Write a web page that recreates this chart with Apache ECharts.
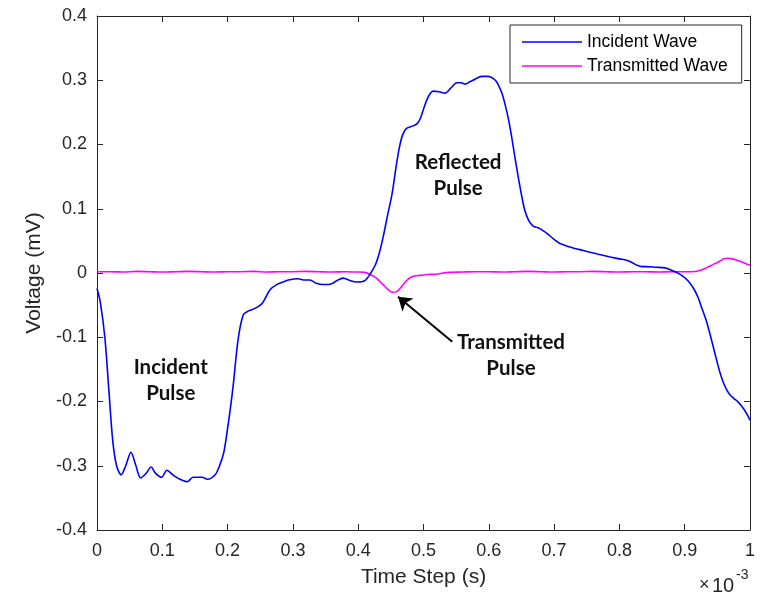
<!DOCTYPE html>
<html>
<head>
<meta charset="utf-8">
<script src="https://cdn.jsdelivr.net/npm/echarts@6/dist/echarts.min.js"></script>
<style>html,body{margin:0;padding:0;background:#fff;}#c{width:770px;height:594px;}</style>
</head>
<body>
<div id="c"></div>
<script>
// Time in units of 1e-3 s
var incidentT = [0.000,0.005,0.012,0.018,0.024,0.030,0.037,0.044,0.052,0.059,0.067,0.075,0.083,0.089,0.099,0.107,0.117,0.127,0.138,0.147,0.161,0.169,0.181,0.188,0.194,0.199,0.205,0.209,0.216,0.224,0.232,0.242,0.253,0.265,0.275,0.285,0.293,0.308,0.318,0.326,0.336,0.345,0.354,0.361,0.367,0.377,0.388,0.398,0.410,0.418,0.426,0.432,0.438,0.445,0.452,0.458,0.463,0.468,0.474,0.484,0.490,0.495,0.500,0.505,0.510,0.515,0.524,0.533,0.542,0.551,0.558,0.564,0.570,0.576,0.583,0.590,0.598,0.605,0.610,0.614,0.620,0.625,0.630,0.635,0.640,0.645,0.650,0.655,0.661,0.668,0.676,0.683,0.691,0.698,0.709,0.729,0.745,0.760,0.773,0.786,0.800,0.811,0.820,0.827,0.835,0.842,0.856,0.870,0.878,0.885,0.891,0.897,0.905,0.913,0.920,0.926,0.933,0.939,0.944,0.949,0.954,0.959,0.964,0.969,0.975,0.982,0.987,0.992,0.996,1.000];
var incidentV = [-0.024,-0.045,-0.100,-0.180,-0.260,-0.300,-0.314,-0.300,-0.279,-0.298,-0.319,-0.312,-0.302,-0.311,-0.318,-0.307,-0.315,-0.321,-0.325,-0.318,-0.318,-0.321,-0.314,-0.299,-0.280,-0.249,-0.205,-0.171,-0.104,-0.065,-0.059,-0.055,-0.047,-0.026,-0.018,-0.014,-0.011,-0.009,-0.011,-0.011,-0.016,-0.018,-0.018,-0.016,-0.012,-0.008,-0.012,-0.014,-0.012,-0.002,0.012,0.030,0.055,0.090,0.124,0.165,0.195,0.215,0.225,0.229,0.232,0.240,0.255,0.269,0.279,0.283,0.282,0.280,0.288,0.296,0.296,0.294,0.297,0.300,0.304,0.306,0.306,0.304,0.300,0.294,0.280,0.262,0.240,0.212,0.180,0.150,0.122,0.098,0.082,0.073,0.070,0.066,0.060,0.054,0.046,0.039,0.035,0.031,0.028,0.025,0.022,0.020,0.016,0.012,0.010,0.010,0.009,0.008,0.005,0.002,-0.001,-0.005,-0.012,-0.023,-0.037,-0.054,-0.074,-0.096,-0.116,-0.136,-0.155,-0.170,-0.181,-0.189,-0.195,-0.201,-0.207,-0.214,-0.221,-0.229];

var transT = [0.000,0.020,0.040,0.060,0.080,0.100,0.120,0.140,0.160,0.180,0.200,0.220,0.240,0.260,0.280,0.300,0.320,0.340,0.360,0.380,0.400,0.410,0.420,0.428,0.438,0.446,0.452,0.459,0.464,0.469,0.476,0.484,0.492,0.500,0.510,0.520,0.530,0.540,0.560,0.580,0.600,0.620,0.640,0.660,0.680,0.700,0.720,0.740,0.760,0.780,0.800,0.820,0.840,0.860,0.880,0.900,0.910,0.923,0.933,0.943,0.953,0.960,0.966,0.973,0.980,0.988,0.995,1.000];
var transV = [0.002,0.002,0.0015,0.0025,0.002,0.0015,0.002,0.0025,0.002,0.0015,0.002,0.002,0.0025,0.0015,0.002,0.002,0.0025,0.002,0.0015,0.002,0.0015,0.001,-0.003,-0.008,-0.018,-0.026,-0.030,-0.029,-0.024,-0.018,-0.010,-0.005,-0.004,-0.003,-0.002,-0.002,0.000,0.001,0.0015,0.002,0.002,0.0015,0.002,0.0025,0.002,0.0015,0.002,0.002,0.0025,0.002,0.0015,0.002,0.002,0.0015,0.002,0.002,0.002,0.004,0.008,0.013,0.018,0.022,0.023,0.022,0.020,0.017,0.014,0.012];

var xTicks = [0,0.1,0.2,0.3,0.4,0.5,0.6,0.7,0.8,0.9,1];
var yTicks = [-0.4,-0.3,-0.2,-0.1,0,0.1,0.2,0.3,0.4];
var seriesNames = ['Incident Wave','Transmitted Wave'];
var seriesColors = ['#0000FF','#FF00FF'];
var annotations = [
  {text:'Incident\nPulse', t:0.113, v:-0.167},
  {text:'Reflected\nPulse', t:0.553, v:0.152},
  {text:'Transmitted\nPulse', t:0.634, v:-0.128}
];
var arrowFrom = [0.544,-0.107], arrowTo = [0.461,-0.037];

function zip(a,b){ var r=[]; for(var i=0;i<a.length;i++) r.push([a[i],b[i]]); return r; }
function fmt(v){ if (Math.abs(v)<1e-9) return '0'; if (Math.abs(v-1)<1e-9) return '1'; return v.toFixed(1); }

var AX = '#262626';
var FONT = 'Liberation Sans, Arial, sans-serif';
var chart = echarts.init(document.getElementById('c'));
var axisCommon = {
  axisLine:{show:true,onZero:false,lineStyle:{color:AX,width:1}},
  axisTick:{show:true,inside:true,length:6,lineStyle:{color:AX}},
  splitLine:{show:false}
};
chart.setOption({
  animation:false,
  backgroundColor:'#fff',
  grid:{left:97,right:20,top:16,bottom:64,containLabel:false},
  legend:{
    orient:'vertical', left:510, top:25,
    data:seriesNames.map(function(n){return {name:n,icon:'rect'};}),
    itemWidth:60, itemHeight:1.6, itemGap:6,
    padding:[8,14,8,12],
    borderColor:AX, borderWidth:1, backgroundColor:'#fff',
    textStyle:{fontFamily:FONT,fontSize:17.5,color:'#000',lineHeight:18,padding:[0,0,0,0]}
  },
  xAxis:[
    Object.assign({type:'value',position:'bottom',min:0,max:1,interval:0.1,
      name:'Time Step (s)',nameLocation:'middle',nameGap:37,
      nameTextStyle:{fontFamily:FONT,fontSize:21,color:AX},
      axisLabel:{fontFamily:FONT,fontSize:18,color:AX,margin:12,formatter:fmt}},axisCommon),
    Object.assign({type:'value',position:'top',min:0,max:1,interval:0.1,axisLabel:{show:false}},axisCommon)
  ],
  yAxis:[
    Object.assign({type:'value',position:'left',min:-0.4,max:0.4,interval:0.1,
      name:'Voltage (mV)',nameLocation:'middle',nameGap:48,
      nameTextStyle:{fontFamily:FONT,fontSize:21,color:AX},
      axisLabel:{fontFamily:FONT,fontSize:18,color:AX,margin:10,formatter:fmt}},axisCommon),
    Object.assign({type:'value',position:'right',min:-0.4,max:0.4,interval:0.1,axisLabel:{show:false}},axisCommon)
  ],
  series:[
    {
      name:seriesNames[0], type:'line', data:zip(incidentT,incidentV),
      symbol:'none', smooth:0.3, lineStyle:{color:seriesColors[0],width:1.6}, itemStyle:{color:seriesColors[0]},
      z:3,
      markPoint:{
        silent:true, symbol:'circle', symbolSize:1,
        itemStyle:{color:'rgba(0,0,0,0)'},
        label:{show:true,position:'inside',formatter:function(p){return p.name;},
          fontFamily:'Lato, Noto Sans, sans-serif',fontWeight:'bold',fontSize:20.5,lineHeight:26,color:'#111',align:'center'},
        data:annotations.map(function(a){return {name:a.text,coord:[a.t,a.v]};})
      }
    },
    {
      name:seriesNames[1], type:'line', data:zip(transT,transV),
      symbol:'none', smooth:0.3, lineStyle:{color:seriesColors[1],width:1.6}, itemStyle:{color:seriesColors[1]},
      z:2,
      markLine:{
        silent:true, symbol:['none','arrow'], symbolSize:13,
        lineStyle:{color:'#000',width:2,type:'solid'},
        itemStyle:{color:'#000'},
        label:{show:false},
        data:[[{coord:arrowFrom},{coord:arrowTo}]]
      }
    }
  ],
  graphic:[
    {type:'text',left:699,top:576,style:{text:'×',fontFamily:FONT,fontSize:18,fill:AX}},
    {type:'text',left:712,top:576,style:{text:'10',fontFamily:FONT,fontSize:20,fill:AX}},
    {type:'text',left:736,top:568,style:{text:'-3',fontFamily:FONT,fontSize:14,fill:AX}}
  ]
});
</script>
</body>
</html>
